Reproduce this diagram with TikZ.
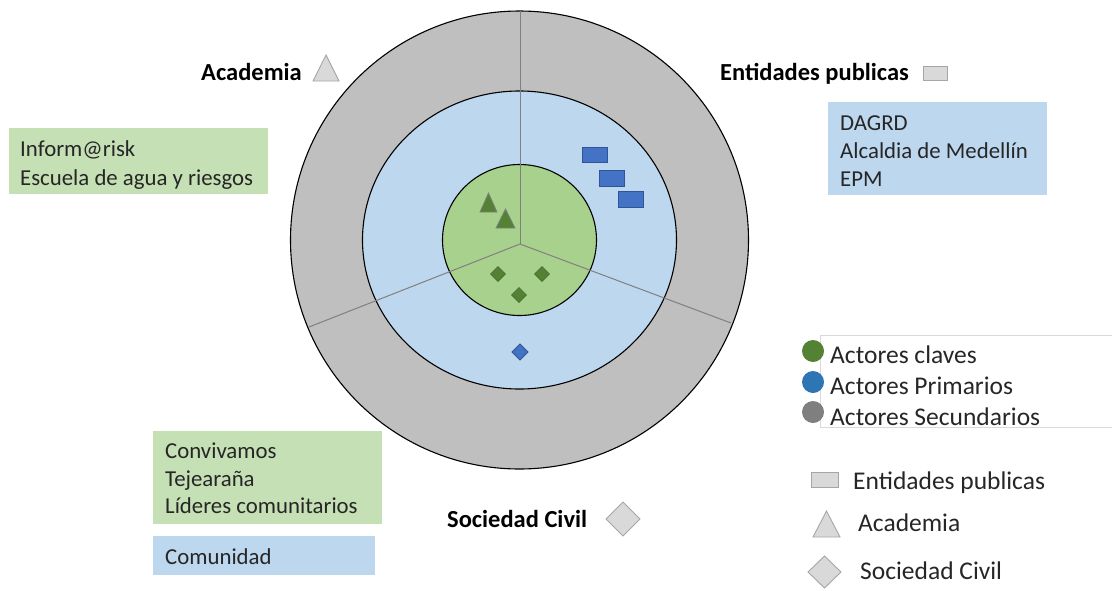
\documentclass[tikz,border=0pt]{standalone}
\usepackage{fontspec}
\setmainfont{Carlito}
\definecolor{ringgray}{HTML}{BFBFBF}
\definecolor{ringblue}{HTML}{BDD7EE}
\definecolor{ringgreen}{HTML}{A9D18E}
\definecolor{boxgreen}{HTML}{C5E0B4}
\definecolor{boxblue}{HTML}{BDD7EE}
\definecolor{symfill}{HTML}{D9D9D9}
\definecolor{symedge}{HTML}{A6A6A6}
\definecolor{darkgreen}{HTML}{548235}
\definecolor{markblue}{HTML}{4472C4}
\definecolor{markblueedge}{HTML}{2F5597}
\definecolor{spokegray}{HTML}{808080}
\definecolor{dotgreen}{HTML}{548235}
\definecolor{dotblue}{HTML}{2E75B6}
\definecolor{dotgray}{HTML}{7F7F7F}
\definecolor{txt}{HTML}{262626}
\newcommand\bodyfont{\fontsize{22.8}{28}\selectfont}
\newcommand\legfont{\fontsize{25.5}{29}\selectfont}
\newcommand\headfont{\fontsize{24.5}{28}\selectfont\bfseries}
\begin{document}
\begin{tikzpicture}[x=1pt,y=-1pt,
  line/.style={anchor=base west, inner sep=0pt, text=txt, font=\bodyfont},
  legline/.style={anchor=base west, inner sep=0pt, text=txt, font=\legfont},
  head/.style={anchor=base west, inner sep=0pt, text=black, font=\headfont},
  ring/.style={draw=black, line width=1.1pt},
  spoke/.style={draw=spokegray, line width=1pt},
  sym/.style={fill=symfill, draw=symedge, line width=0.9pt},
  greenmark/.style={fill=darkgreen, draw=spokegray, line width=0.8pt},
  gdiamond/.style={fill=darkgreen, draw=darkgreen!80!black, line width=0.5pt},
  bluemark/.style={fill=markblue, draw=markblueedge, line width=0.8pt}]
\useasboundingbox (0,0) rectangle (1112,590);

% --- concentric rings ---
\coordinate (c) at (519.5,240);
\coordinate (hub) at (520,244);
\fill[ringgray] (c) circle[radius=229pt];
\draw[ring] (c) circle[radius=229pt];
\fill[ringblue] (c) ellipse[x radius=157pt, y radius=149pt];
\draw[ring] (c) ellipse[x radius=157pt, y radius=149pt];
\fill[ringgreen] (c) ellipse[x radius=77pt, y radius=75.5pt];
\draw[ring] (c) ellipse[x radius=77pt, y radius=75.5pt];

% --- sector dividers ---
\coordinate (sTop) at (520,11);
\coordinate (sLeft) at (309,327);
\coordinate (sRight) at (731,323);
\draw[spoke] (hub) -- (sTop);
\draw[spoke] (hub) -- (sLeft);
\draw[spoke] (hub) -- (sRight);

% --- actors inside the rings ---
\draw[greenmark] (480,212) -- (497,212) -- (488.5,193) -- cycle;
\draw[greenmark] (496,228) -- (515,228) -- (505.5,209) -- cycle;
\foreach \px/\py in {498/274, 542/274, 519/295}
  \draw[gdiamond] (\px-7.5,\py) -- (\px,\py-7.5) -- (\px+7.5,\py) -- (\px,\py+7.5) -- cycle;
\draw[bluemark] (512,352) -- (520,344) -- (528,352) -- (520,360) -- cycle;
\draw[bluemark] (582,147) rectangle (607,162);
\draw[bluemark] (599,170) rectangle (624,186);
\draw[bluemark] (618,191) rectangle (643,207);

% --- sector headings ---
\node[head] (hAcad) at (201,80) {Academia};
\draw[sym] (313,81) -- (339,81) -- (326,55) -- cycle;
\node[head] (hEnt) at (720,80) {Entidades publicas};
\draw[sym] (923,66) rectangle (947,80);
\node[head] (hSoc) at (447,527) {Sociedad Civil};
\draw[sym] (606,519) -- (623,502) -- (640,519) -- (623,536) -- cycle;

% --- actor lists ---
\fill[boxgreen] (9,128) rectangle (268,194);
\node[line] (l1) at (20,156) {Inform@risk};
\node[line] (l2) at (20,185) {Escuela de agua y riesgos};

\fill[boxblue] (828,102) rectangle (1047,195);
\node[line] (r1) at (840,130) {DAGRD};
\node[line] (r2) at (840,158) {Alcaldia de Medellín};
\node[line] (r3) at (840,186) {EPM};

\fill[boxgreen] (153,431) rectangle (382,524);
\node[line] (b1) at (165,458) {Convivamos};
\node[line] (b2) at (165,486) {Tejearaña};
\node[line] (b3) at (165,513) {Líderes comunitarios};

\fill[boxblue] (153,536) rectangle (375,575);
\node[line] (b4) at (165,564) {Comunidad};

% --- legend: rings ---
\draw[symfill, line width=0.8pt] (1113,335) -- (820,335) -- (820,427) -- (1113,427);
\fill[dotgreen] (813,351) circle[radius=11pt];
\fill[dotblue] (813,382) circle[radius=11pt];
\fill[dotgray] (813,412) circle[radius=11pt];
\node[legline] (k1) at (830,363) {Actores claves};
\node[legline] (k2) at (830,394) {Actores Primarios};
\node[legline] (k3) at (830,425) {Actores Secundarios};

% --- legend: sectors ---
\draw[sym] (811,472) rectangle (838,487);
\node[legline] (s1) at (853,489) {Entidades publicas};
\draw[sym] (813,537) -- (840,537) -- (826.5,511) -- cycle;
\node[legline] (s2) at (858,531) {Academia};
\draw[sym] (808,572) -- (824.5,556) -- (841,572) -- (824.5,588) -- cycle;
\node[legline] (s3) at (860,579) {Sociedad Civil};
\end{tikzpicture}
\end{document}
